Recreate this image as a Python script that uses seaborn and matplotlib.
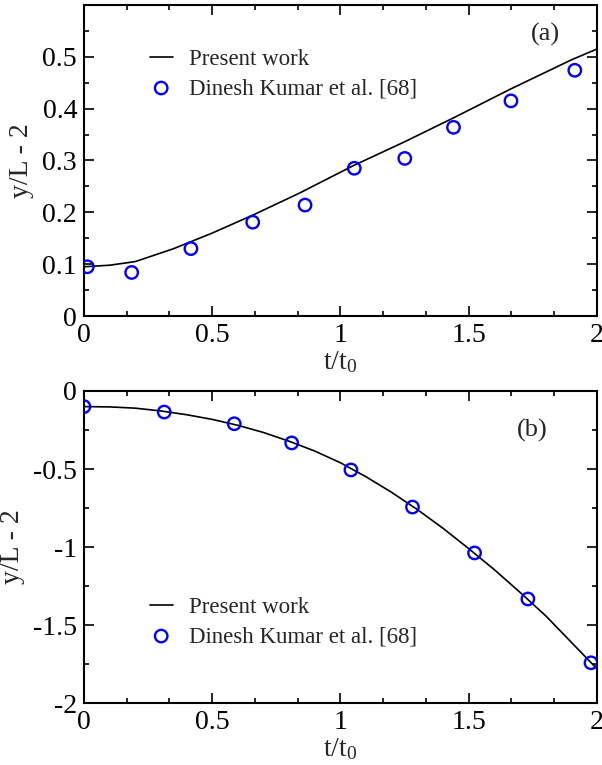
import numpy as np
import pandas as pd
import matplotlib
matplotlib.use("Agg")
import matplotlib.pyplot as plt
from matplotlib.ticker import MultipleLocator
import seaborn as sns

# ---- data (a) ----
a_line_t = [0.0, 0.1, 0.2, 0.35, 0.5, 0.66, 0.84, 1.05, 1.25, 1.44, 1.66, 1.9, 2.0]
a_line_y = [0.095, 0.098, 0.105, 0.130, 0.160, 0.195, 0.237, 0.290, 0.336, 0.382, 0.437, 0.494, 0.515]
a_pts_t = [0.013, 0.186, 0.417, 0.658, 0.862, 1.054, 1.251, 1.441, 1.665, 1.914]
a_pts_y = [0.095, 0.084, 0.130, 0.181, 0.214, 0.285, 0.304, 0.364, 0.415, 0.474]

# ---- data (b) ----
b_line_t = [0.0, 0.1, 0.2, 0.3, 0.4, 0.5, 0.6, 0.7, 0.8, 0.9, 1.0, 1.1, 1.2, 1.3, 1.4, 1.5, 1.6, 1.7, 1.8, 1.9, 2.0]
b_line_y = [-0.100, -0.102, -0.110, -0.128, -0.152, -0.182, -0.220, -0.266, -0.322, -0.385, -0.460,
            -0.550, -0.650, -0.760, -0.880, -1.010, -1.145, -1.290, -1.440, -1.610, -1.780]
b_pts_t = [0.0, 0.313, 0.586, 0.810, 1.041, 1.281, 1.523, 1.731, 1.977]
b_pts_y = [-0.100, -0.135, -0.210, -0.333, -0.506, -0.744, -1.038, -1.333, -1.742]

line_label = "Present work"
pts_label = "Dinesh Kumar et al. [68]"

sns.set_theme(style="ticks")
plt.rcParams["font.family"] = ["Liberation Serif", "DejaVu Serif"]
plt.rcParams["mathtext.default"] = "regular"

fig = plt.figure(figsize=(6.02, 7.65), dpi=100)
ax1 = fig.add_axes([0.1395, 0.5869, 0.852, 0.4066])
ax2 = fig.add_axes([0.1395, 0.0810, 0.852, 0.4079])

def draw(ax, lt, ly, pt, py):
    sns.lineplot(x=lt, y=ly, ax=ax, color="black", linewidth=1.2, label=line_label)
    sns.scatterplot(x=pt, y=py, ax=ax, marker="o", s=80, facecolors="none",
                    edgecolor="#0000ff", linewidth=1.7, label=pts_label, zorder=3)

draw(ax1, a_line_t, a_line_y, a_pts_t, a_pts_y)
draw(ax2, b_line_t, b_line_y, b_pts_t, b_pts_y)

ax1.set_xlim(0, 2); ax1.set_ylim(0, 0.6)
ax1.xaxis.set_minor_locator(MultipleLocator(0.5 / 3))
ax1.yaxis.set_minor_locator(MultipleLocator(0.05))
ax1.set_yticks([0, 0.1, 0.2, 0.3, 0.4, 0.5])
ax1.set_yticklabels(["0", "0.1", "0.2", "0.3", "0.4", "0.5"])
ax1.set_xticks([0, 0.5, 1, 1.5, 2])
ax1.set_xticklabels(["0", "0.5", "1", "1.5", "2"])

ax2.set_xlim(0, 2); ax2.set_ylim(-2, 0)
ax2.xaxis.set_minor_locator(MultipleLocator(0.5 / 3))
ax2.yaxis.set_minor_locator(MultipleLocator(0.25))
ax2.set_yticks([-2, -1.5, -1, -0.5, 0])
ax2.set_yticklabels(["-2", "-1.5", "-1", "-0.5", "0"])
ax2.set_xticks([0, 0.5, 1, 1.5, 2])
ax2.set_xticklabels(["0", "0.5", "1", "1.5", "2"])

for ax, tag, tx, ty in ((ax1, "(a)", 0.928, 0.904), (ax2, "(b)", 0.904, 0.875)):
    for sp in ax.spines.values():
        sp.set_visible(True)
        sp.set_linewidth(1.5)
        sp.set_color("black")
    ax.tick_params(which="both", direction="in", top=True, right=True, colors="black",
                   labelsize=20, width=1.2, pad=5)
    ax.tick_params(which="major", length=7)
    ax.tick_params(which="minor", length=3.5)
    ax.set_xlabel("t/t$_0$", fontsize=20, labelpad=1)
    ax.set_ylabel("y/L - 2", fontsize=20, labelpad=6)
    ax.text(tx, ty, tag, transform=ax.transAxes, ha="right", va="center", fontsize=19)

leg_kw = dict(loc="upper left", frameon=False, fontsize=16.5, handlelength=1.0,
              handletextpad=0.7, labelspacing=0.35, borderpad=0.4)
ax1.legend(bbox_to_anchor=(0.088, 0.925), **leg_kw)
ax2.legend(bbox_to_anchor=(0.088, 0.406), **leg_kw)

fig.savefig("out.png", dpi=100)
